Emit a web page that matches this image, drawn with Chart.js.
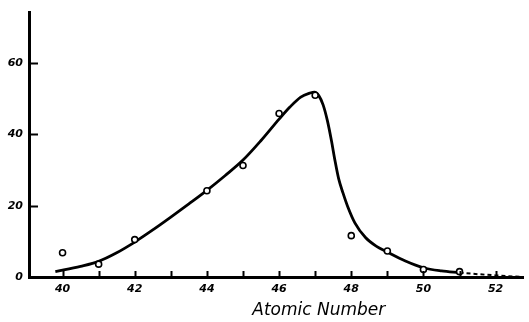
<!DOCTYPE html>
<html>
<head>
<meta charset="utf-8">
<script src="https://cdn.jsdelivr.net/npm/chart.js@4"></script>
<style>
  html, body { margin: 0; padding: 0; background: #fff; }
  #wrap { width: 529px; height: 322px; }
</style>
</head>
<body>
<div id="wrap"><canvas id="chart"></canvas></div>
<script>
// measured points (open circles)
const pointZ     = [40, 41, 42, 44, 45, 46, 47, 48, 49, 50, 51];
const pointYield = [6.8, 3.6, 10.5, 24.2, 31.3, 45.9, 51.0, 11.6, 7.3, 2.1, 1.5];

// smooth curve drawn through them
const curveZ     = [39.8, 40.5, 41, 41.5, 42, 42.5, 43, 43.5, 44, 44.5, 45, 45.5, 46, 46.3, 46.6, 46.85, 46.98,
                    47.1, 47.22, 47.34, 47.45, 47.55, 47.65, 47.77, 47.9, 48.1, 48.4, 48.7, 49, 49.5, 50, 50.5, 51];
const curveYield = [1.5, 3.0, 4.4, 6.8, 9.8, 13.2, 16.8, 20.5, 24.3, 28.4, 32.8, 38.3, 44.3, 47.7, 50.5, 51.6, 51.9,
                    50.9, 48.3, 43.8, 38.3, 32.6, 27.6, 23.6, 19.8, 15.2, 11.0, 8.6, 7.0, 4.5, 2.6, 1.7, 1.2];

// dashed extrapolation
const tailZ     = [51, 51.5, 52, 52.5, 52.8];
const tailYield = [1.2, 0.8, 0.45, 0.15, 0.0];

const xTicks = [40, 41, 42, 43, 44, 45, 46, 47, 48, 49, 50, 51, 52];
const yTicks = [0, 20, 40, 60];

const toXY = (xs, ys) => xs.map((x, i) => ({ x: x, y: ys[i] }));

const tickFont = { family: 'DejaVu Sans, sans-serif', size: 11, style: 'italic', weight: 'bold' };

// inward tick marks + axis title
const extras = {
  id: 'extras',
  afterDraw(chart) {
    const { ctx, scales: { x, y }, chartArea } = chart;
    ctx.save();
    ctx.strokeStyle = '#000';
    ctx.lineWidth = 2;
    xTicks.forEach(v => {
      const px = Math.round(x.getPixelForValue(v)) + 0.5;
      ctx.beginPath();
      ctx.moveTo(px, chartArea.bottom);
      ctx.lineTo(px, chartArea.bottom - 6);
      ctx.stroke();
    });
    yTicks.filter(v => v > 0).forEach(v => {
      const py = Math.round(y.getPixelForValue(v)) + 0.5;
      ctx.beginPath();
      ctx.moveTo(chartArea.left, py);
      ctx.lineTo(chartArea.left + 9, py);
      ctx.stroke();
    });
    ctx.fillStyle = '#000';
    ctx.font = 'italic 17px "DejaVu Sans", sans-serif';
    ctx.textAlign = 'center';
    ctx.textBaseline = 'middle';
    ctx.fillText('Atomic Number', x.getPixelForValue(47.1), 311);
    ctx.restore();
  }
};

new Chart(document.getElementById('chart'), {
  type: 'scatter',
  data: {
    datasets: [
      {
        data: toXY(curveZ, curveYield),
        showLine: true,
        borderColor: '#000',
        borderWidth: 2.8,
        pointRadius: 0,
        cubicInterpolationMode: 'monotone',
        order: 2,
      },
      {
        data: toXY(tailZ, tailYield),
        showLine: true,
        borderColor: '#000',
        borderWidth: 2,
        borderDash: [4, 3],
        pointRadius: 0,
        order: 2,
      },
      {
        data: toXY(pointZ, pointYield),
        showLine: false,
        pointRadius: 3,
        pointBorderWidth: 1.6,
        pointBorderColor: '#000',
        pointBackgroundColor: '#fff',
        order: 1,
      }
    ]
  },
  options: {
    responsive: true,
    maintainAspectRatio: false,
    animation: false,
    layout: { padding: { top: 10, right: 0, left: 0, bottom: 0 } },
    plugins: { legend: { display: false }, tooltip: { enabled: false } },
    scales: {
      x: {
        type: 'linear',
        min: 39.07,
        max: 52.77,
        afterBuildTicks: s => { s.ticks = xTicks.map(v => ({ value: v })); },
        afterFit: s => { s.height = 45; },
        grid: { display: false, drawTicks: false },
        border: { display: true, color: '#000', width: 3 },
        ticks: {
          color: '#000',
          font: tickFont,
          padding: 6,
          maxRotation: 0,
          autoSkip: false,
          callback: v => (v % 2 === 0 ? String(v) : ''),
        }
      },
      y: {
        min: 0,
        max: 74.2,
        afterBuildTicks: s => { s.ticks = yTicks.map(v => ({ value: v })); },
        afterFit: s => { s.width = 29; },
        grid: { display: false, drawTicks: false },
        border: { display: true, color: '#000', width: 3 },
        ticks: {
          color: '#000',
          font: tickFont,
          padding: 6,
          callback: v => String(v),
        }
      }
    }
  },
  plugins: [extras]
});
</script>
</body>
</html>
